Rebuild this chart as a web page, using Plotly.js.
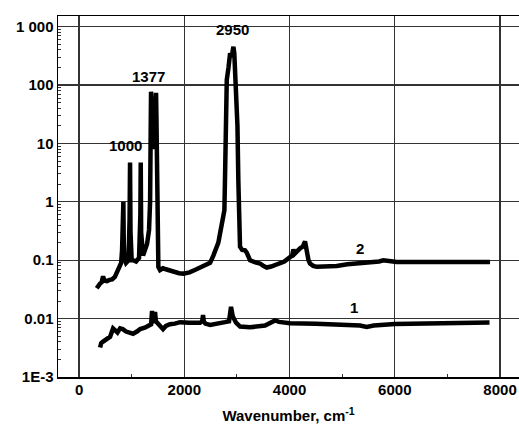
<!DOCTYPE html>
<html>
<head>
<meta charset="utf-8">
<script src="https://cdn.plot.ly/plotly-3.0.1.min.js"></script>
<style>html,body{margin:0;padding:0;background:#fff;}#chart{width:519px;height:432px;}</style>
</head>
<body>
<div id="chart"></div>
<script>
// Series 2 (upper curve)
var s2x = [336, 360, 400, 430, 456, 480, 532, 580, 627, 680, 722, 760, 780, 800, 817, 835, 842, 850, 860, 893, 940, 960, 969, 978, 1000, 1026, 1083, 1140, 1165, 1172, 1180, 1216, 1260, 1292, 1330, 1350, 1362, 1368, 1375, 1395, 1415, 1440, 1455, 1463, 1470, 1482, 1495, 1507, 1539, 1596, 1650, 1700, 1787, 1900, 1983, 2100, 2200, 2300, 2426, 2490, 2552, 2600, 2647, 2680, 2711, 2743, 2762, 2775, 2788, 2807, 2840, 2870, 2900, 2933, 2950, 2964, 2996, 3010, 3027, 3045, 3059, 3100, 3154, 3186, 3249, 3350, 3439, 3500, 3566, 3650, 3750, 3819, 3900, 4009, 4050, 4072, 4100, 4199, 4250, 4294, 4320, 4360, 4389, 4450, 4516, 4700, 4896, 5100, 5300, 5500, 5700, 5783, 5850, 6036, 6300, 6600, 7000, 7400, 7810];
var s2y = [0.033, 0.036, 0.040, 0.042, 0.053, 0.045, 0.044, 0.046, 0.047, 0.052, 0.063, 0.07, 0.077, 0.09, 0.147, 0.4, 1.0, 0.2, 0.11, 0.09, 0.1, 0.5, 4.7, 0.3, 0.1, 0.1, 0.095, 0.11, 0.6, 4.7, 0.3, 0.12, 0.15, 0.19, 0.33, 1.0, 20, 77, 60, 15, 8, 20, 60, 74, 30, 0.5, 0.12, 0.077, 0.068, 0.073, 0.07, 0.068, 0.063, 0.06, 0.059, 0.062, 0.068, 0.075, 0.085, 0.09, 0.12, 0.15, 0.2, 0.29, 0.45, 0.55, 0.72, 3, 33, 122, 200, 350, 300, 454, 350, 206, 63, 20, 2.3, 0.4, 0.17, 0.15, 0.148, 0.135, 0.1, 0.092, 0.088, 0.08, 0.075, 0.078, 0.083, 0.088, 0.095, 0.113, 0.12, 0.153, 0.13, 0.16, 0.17, 0.21, 0.15, 0.1, 0.088, 0.08, 0.077, 0.078, 0.08, 0.085, 0.088, 0.09, 0.095, 0.1, 0.098, 0.093, 0.093, 0.093, 0.092, 0.092, 0.093];

// Series 1 (lower curve)
var s1x = [400, 420, 450, 500, 560, 590, 646, 700, 730, 780, 830, 893, 950, 1026, 1100, 1160, 1250, 1311, 1370, 1387, 1400, 1430, 1444, 1460, 1500, 1550, 1596, 1650, 1729, 1820, 1919, 2100, 2300, 2340, 2356, 2370, 2400, 2490, 2600, 2774, 2850, 2888, 2920, 2983, 3060, 3250, 3535, 3650, 3724, 3800, 4009, 4500, 5150, 5340, 5466, 5600, 6000, 6500, 7000, 7500, 7800];
var s1y = [0.0032, 0.0038, 0.0040, 0.0043, 0.0047, 0.0049, 0.0068, 0.0060, 0.0058, 0.0068, 0.0066, 0.0060, 0.0058, 0.0055, 0.0060, 0.0066, 0.0070, 0.0076, 0.008, 0.0135, 0.009, 0.009, 0.013, 0.009, 0.0083, 0.0072, 0.0066, 0.0075, 0.0080, 0.0082, 0.0087, 0.0085, 0.0085, 0.009, 0.0115, 0.009, 0.0082, 0.0078, 0.008, 0.0087, 0.009, 0.0159, 0.011, 0.0085, 0.0073, 0.0071, 0.0076, 0.0085, 0.0093, 0.0088, 0.0083, 0.0082, 0.008, 0.0076, 0.0072, 0.0076, 0.0081, 0.0083, 0.0085, 0.0086, 0.0086];

// Axis ticks
var xTickVals = [0, 2000, 4000, 6000, 8000];
var yTickVals = [0.001, 0.01, 0.1, 1, 10, 100, 1000];
var yTickText = ['1E-3', '0.01', '0.1', '1', '10', '100', '1 000'];
var minorMultipliers = [2, 3, 4, 5, 6, 7, 8, 9];

// Labels
var labelText = ['1000', '1377', '2950', '2', '1'];
var labelX = [874, 1324, 2917, 5339, 5219];
var labelY = [9.4, 139, 912, 0.159, 0.0158];

var yMinor = [];
yTickVals.forEach(function (d) { minorMultipliers.forEach(function (m) { yMinor.push(d * m); }); });

var font = {family: 'Liberation Sans, Arial, sans-serif', size: 15, color: '#000', weight: 'bold'};

var traces = [
  {x: s2x, y: s2y, type: 'scatter', mode: 'lines', line: {color: '#000', width: 4.5}, hoverinfo: 'skip'},
  {x: s1x, y: s1y, type: 'scatter', mode: 'lines', line: {color: '#000', width: 4.5}, hoverinfo: 'skip'}
];

var annotations = labelText.map(function (t, i) {
  return {x: labelX[i], y: Math.log10(labelY[i]), xref: 'x', yref: 'y', text: t, showarrow: false,
          font: font, xanchor: 'center', yanchor: 'middle'};
});

var layout = {
  width: 519, height: 432,
  margin: {l: 58, r: 0, t: 16, b: 55, pad: 0},
  paper_bgcolor: '#fff', plot_bgcolor: '#fff',
  showlegend: false,
  font: font,
  xaxis: {
    range: [-400, 8360], tickmode: 'array', tickvals: xTickVals,
    showgrid: true, gridcolor: '#333', gridwidth: 1.2,
    zeroline: false, showline: true, linecolor: '#000', linewidth: 1.5, mirror: true,
    ticks: '', tickfont: font, ticklabelstandoff: -2,
    minor: {ticks: 'inside', dtick: 1000, ticklen: 3, tickcolor: '#333', showgrid: false},
    title: {text: 'Wavenumber, cm<sup>-1</sup>', font: font, standoff: 14}
  },
  yaxis: {
    type: 'log', range: [-3, 3.183], tickmode: 'array', tickvals: yTickVals, ticktext: yTickText,
    showgrid: true, gridcolor: '#333', gridwidth: 1.2,
    zeroline: false, showline: true, linecolor: '#000', linewidth: 1.5,
    ticks: '', tickfont: font, ticklabelstandoff: 0,
    minor: {ticks: 'inside', tickmode: 'array', tickvals: yMinor, ticklen: 3, tickcolor: '#333', showgrid: false}
  },
  annotations: annotations
};

Plotly.newPlot('chart', traces, layout, {staticPlot: true, displayModeBar: false});
</script>
</body>
</html>
